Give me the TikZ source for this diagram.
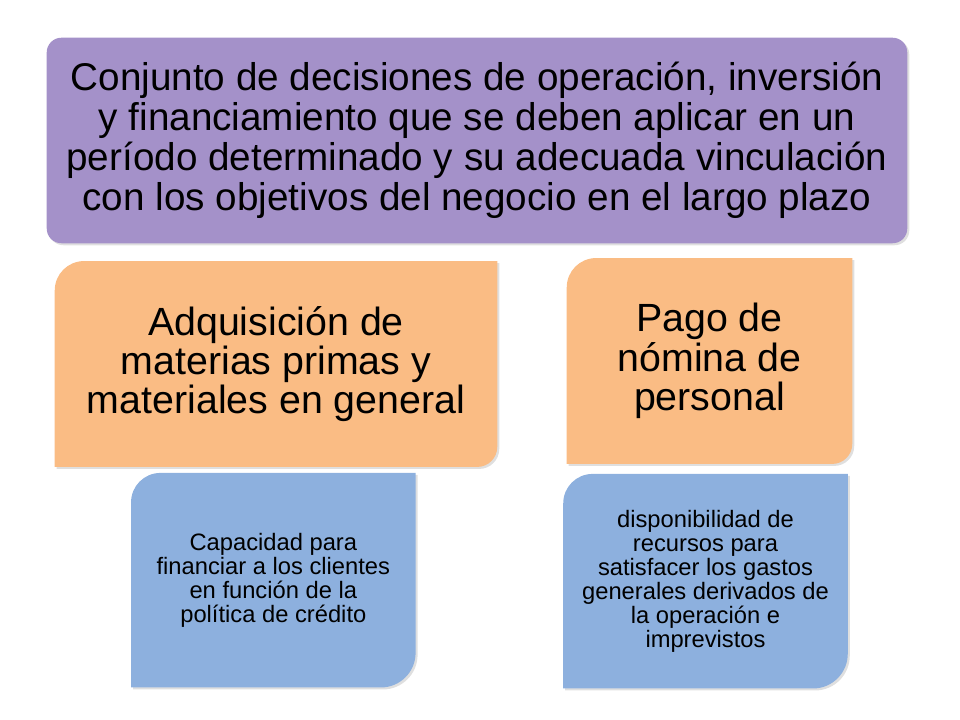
\documentclass[tikz,border=0pt]{standalone}
\usepackage{fontspec}
\setmainfont{Liberation Sans}
\usetikzlibrary{positioning,backgrounds,shadows}

\definecolor{purplebox}{RGB}{164,145,201}
\definecolor{orangebox}{RGB}{250,188,132}
\definecolor{bluebox}{RGB}{141,176,222}

% fill behind a node, round top-left and bottom-right corners only
\newcommand{\diagfill}[4]{%
  \fill[#4,box shadow] (#1.south west) -- ([yshift=-#2]#1.north west)
    arc[start angle=180,end angle=90,radius=#2] -- (#1.north east)
    -- ([yshift=#3]#1.south east) arc[start angle=0,end angle=-90,radius=#3] -- cycle;}

\begin{document}
\begin{tikzpicture}[x=0.75pt,y=0.75pt,
    box shadow/.style={drop shadow={opacity=0.25,shadow xshift=1.5pt,shadow yshift=-1.5pt}},
    base node/.style={inner sep=0pt,align=center,text=black},
    main node/.style={base node,minimum width=645pt,minimum height=153.75pt,font=\fontsize{29}{30}\selectfont},
    task node/.style={base node,minimum height=154pt,font=\fontsize{29.5}{29.5}\selectfont},
    detail node/.style={base node,minimum width=213pt,minimum height=160.5pt,font=\fontsize{17.8}{18}\selectfont}]

  \useasboundingbox (0,0) rectangle (960,720);

  \node[main node] (plan) at (477,579.5) {Conjunto de decisiones de operación, inversión\\
    y financiamiento que se deben aplicar en un\\
    período determinado y su adecuada vinculación\\
    con los objetivos del negocio en el largo plazo};

  \node[task node,minimum width=331.5pt] (compras) at (276,356) {Adquisición de\\ materias primas y\\ materiales en general};
  \node[task node,minimum width=213.75pt] (nomina) at (709.5,359) {Pago de\\ nómina de\\ personal};

  \node[detail node] (credito) [below=4.5pt of compras,xshift=-2pt] {Capacidad para\\ financiar a los clientes\\ en función de la\\ política de crédito};
  \node[detail node] (recursos) [below=7.5pt of nomina,xshift=-3pt] {disponibilidad de\\ recursos para\\ satisfacer los gastos\\ generales derivados de\\ la operación e\\ imprevistos};

  \begin{scope}[on background layer]
    \fill[purplebox,box shadow,rounded corners=11pt] (plan.south west) rectangle (plan.north east);
    \diagfill{compras}{22pt}{15pt}{orangebox}
    \diagfill{nomina}{22pt}{15pt}{orangebox}
    \diagfill{credito}{22pt}{26pt}{bluebox}
    \diagfill{recursos}{22pt}{26pt}{bluebox}
  \end{scope}

\end{tikzpicture}
\end{document}
